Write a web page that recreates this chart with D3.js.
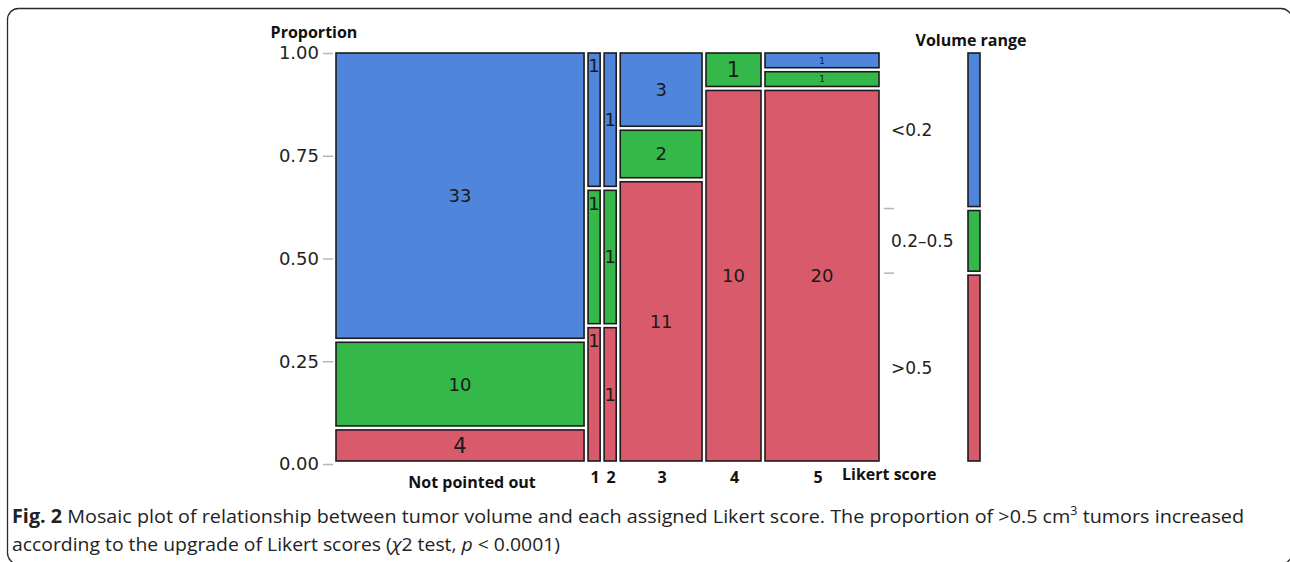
<!DOCTYPE html>
<html>
<head>
<meta charset="utf-8">
<script src="https://cdn.jsdelivr.net/npm/d3@7"></script>
<style>
  body { margin: 0; background: #fff; }
  svg { display: block; }
</style>
</head>
<body>
<div id="chart"></div>
<script>
'use strict';

// categories and counts
var likertCats = ['Not pointed out', '1', '2', '3', '4', '5'];
var volumeRanges = ['<0.2', '0.2\u20130.5', '>0.5'];
var countsLow = [33, 1, 1, 3, 0, 1];    // <0.2
var countsMid = [10, 1, 1, 2, 1, 1];    // 0.2-0.5
var countsHigh = [4, 1, 1, 11, 10, 20]; // >0.5
var yTickValues = [0, 0.25, 0.5, 0.75, 1];

var width = 1290, height = 562;
var colors = ['#4f85da', '#34b84a', '#d95a6b']; // low, mid, high
var numFont = '"DejaVu Sans", sans-serif';
var boldFont = '"Open Sans", sans-serif';
var pad = 2; // gap between tiles

var svg = d3.select('#chart').append('svg')
  .attr('width', width)
  .attr('height', height);

// rounded frame round the figure (right and bottom edges run off the picture)
svg.append('rect')
  .attr('x', 7.5).attr('y', 8.5)
  .attr('width', 1284.5).attr('height', 555.5)
  .attr('rx', 11)
  .attr('fill', 'none')
  .attr('stroke', '#2a2a2a')
  .attr('stroke-width', 1.3);

// series in stacking order, bottom to top
var series = [
  {name: volumeRanges[2], counts: countsHigh, color: colors[2]},
  {name: volumeRanges[1], counts: countsMid, color: colors[1]},
  {name: volumeRanges[0], counts: countsLow, color: colors[0]}
];

var colTotals = likertCats.map(function(c, i){
  return countsLow[i] + countsMid[i] + countsHigh[i];
});
var grandTotal = d3.sum(colTotals);

var x = d3.scaleLinear().domain([0, grandTotal]).range([334, 881]);
var y = d3.scaleLinear().domain([0, 1]).range([463, 51]);
var yAxisScale = d3.scaleLinear().domain([0, 1]).range([464, 53]);

// build tiles
var tiles = [];
var xCum = 0;
likertCats.forEach(function(cat, i){
  var cum = 0;
  series.forEach(function(s){
    var n = s.counts[i];
    var p = n / colTotals[i];
    if (n > 0) {
      tiles.push({col: i, count: n, color: s.color,
        x0: xCum, x1: xCum + colTotals[i], y0: cum, y1: cum + p});
    }
    cum += p;
  });
  xCum += colTotals[i];
});

var g = svg.append('g');

g.selectAll('rect.tile').data(tiles).enter().append('rect')
  .attr('class', 'tile')
  .attr('x', function(d){ return x(d.x0) + pad; })
  .attr('y', function(d){ return y(d.y1) + pad; })
  .attr('width', function(d){ return x(d.x1) - x(d.x0) - 2 * pad; })
  .attr('height', function(d){ return y(d.y0) - y(d.y1) - 2 * pad; })
  .attr('fill', function(d){ return d.color; })
  .attr('stroke', '#1c1c1c')
  .attr('stroke-width', 1.6);

g.selectAll('text.count').data(tiles).enter().append('text')
  .attr('class', 'count')
  .attr('x', function(d){ return (x(d.x0) + x(d.x1)) / 2; })
  .attr('y', function(d){
    var top = y(d.y1) + pad, bottom = y(d.y0) - pad;
    if (d.col === 1) return top + 13; // first Likert column: label sits at top
    return (top + bottom) / 2;
  })
  .attr('dy', '0.36em')
  .attr('text-anchor', 'middle')
  .attr('font-family', numFont)
  .attr('font-size', function(d){
    var h = y(d.y0) - y(d.y1);
    if (h < 22) return 9;
    return h < 45 ? 21 : 18;
  })
  .attr('fill', '#1a1a1a')
  .text(function(d){ return d.count; });

// y axis
var yAxis = svg.append('g')
  .attr('transform', 'translate(333,0)')
  .call(d3.axisLeft(yAxisScale).tickValues(yTickValues)
    .tickFormat(d3.format('.2f')).tickSize(10).tickPadding(4));
yAxis.select('.domain').remove();
yAxis.selectAll('.tick line').attr('stroke', '#b5b5b5').attr('stroke-width', 1.5);
yAxis.selectAll('.tick text')
  .attr('font-family', numFont).attr('font-size', 18).attr('fill', '#222');

svg.append('text')
  .attr('x', 314).attr('y', 38)
  .attr('text-anchor', 'middle')
  .attr('font-family', boldFont).attr('font-weight', 'bold')
  .attr('font-size', 16).attr('fill', '#111')
  .text('Proportion');

// x category labels
xCum = 0;
var catCenters = likertCats.map(function(c, i){
  var mid = xCum + colTotals[i] / 2;
  xCum += colTotals[i];
  return mid;
});
svg.selectAll('text.cat').data(likertCats).enter().append('text')
  .attr('class', 'cat')
  .attr('x', function(d, i){
    var cx = x(catCenters[i]);
    if (i === 0) return cx + 12;
    if (i === 5) return cx - 4;
    return cx + 1;
  })
  .attr('y', function(d, i){ return i === 0 ? 488 : 483; })
  .attr('text-anchor', 'middle')
  .attr('font-family', boldFont).attr('font-weight', 'bold')
  .attr('font-size', 16).attr('fill', '#111')
  .text(function(d){ return d; });

svg.append('text')
  .attr('x', 842).attr('y', 480)
  .attr('font-family', boldFont).attr('font-weight', 'bold')
  .attr('font-size', 16).attr('fill', '#111')
  .text('Likert score');

// legend: marginal proportions of the volume ranges
var legendTiles = [];
var lc = 0;
series.forEach(function(s){
  var p = d3.sum(s.counts) / grandTotal;
  legendTiles.push({name: s.name, color: s.color, y0: lc, y1: lc + p});
  lc += p;
});

svg.selectAll('rect.leg').data(legendTiles).enter().append('rect')
  .attr('class', 'leg')
  .attr('x', 968).attr('width', 12)
  .attr('y', function(d){ return y(d.y1) + pad; })
  .attr('height', function(d){ return y(d.y0) - y(d.y1) - 2 * pad; })
  .attr('fill', function(d){ return d.color; })
  .attr('stroke', '#1c1c1c')
  .attr('stroke-width', 1.6);

svg.selectAll('text.leg').data(legendTiles).enter().append('text')
  .attr('class', 'leg')
  .attr('x', 891)
  .attr('y', function(d){ return (y(d.y0) + y(d.y1)) / 2; })
  .attr('dy', '0.36em')
  .attr('font-family', numFont).attr('font-size', 17).attr('fill', '#222')
  .text(function(d){ return d.name; });

svg.selectAll('line.leg').data(legendTiles.slice(1)).enter().append('line')
  .attr('class', 'leg')
  .attr('x1', 884).attr('x2', 894)
  .attr('y1', function(d){ return y(d.y0); })
  .attr('y2', function(d){ return y(d.y0); })
  .attr('stroke', '#b5b5b5').attr('stroke-width', 1.5);

svg.append('text')
  .attr('x', 971).attr('y', 46)
  .attr('text-anchor', 'middle')
  .attr('font-family', boldFont).attr('font-weight', 'bold')
  .attr('font-size', 16).attr('fill', '#111')
  .text('Volume range');

// caption
var capFont = '"Open Sans", sans-serif';
var cap1 = svg.append('text')
  .attr('x', 12).attr('y', 523)
  .attr('font-family', capFont).attr('font-size', 19).attr('fill', '#222')
  .attr('textLength', 1232).attr('lengthAdjust', 'spacingAndGlyphs');
cap1.append('tspan').attr('font-weight', 'bold').text('Fig. 2');
cap1.append('tspan').text(' Mosaic plot of relationship between tumor volume and each assigned Likert score. The proportion of >0.5 cm');
cap1.append('tspan').attr('dy', -8).attr('font-size', 12).text('3');
cap1.append('tspan').attr('dy', 8).text(' tumors increased');

var cap2 = svg.append('text')
  .attr('x', 12).attr('y', 551)
  .attr('font-family', capFont).attr('font-size', 19).attr('fill', '#222')
  .attr('textLength', 548).attr('lengthAdjust', 'spacingAndGlyphs');
cap2.append('tspan').text('according to the upgrade of Likert scores (');
cap2.append('tspan').attr('font-style', 'italic').text('\u03c7');
cap2.append('tspan').text('2 test, ');
cap2.append('tspan').attr('font-style', 'italic').text('p');
cap2.append('tspan').text(' < 0.0001)');
</script>
</body>
</html>
